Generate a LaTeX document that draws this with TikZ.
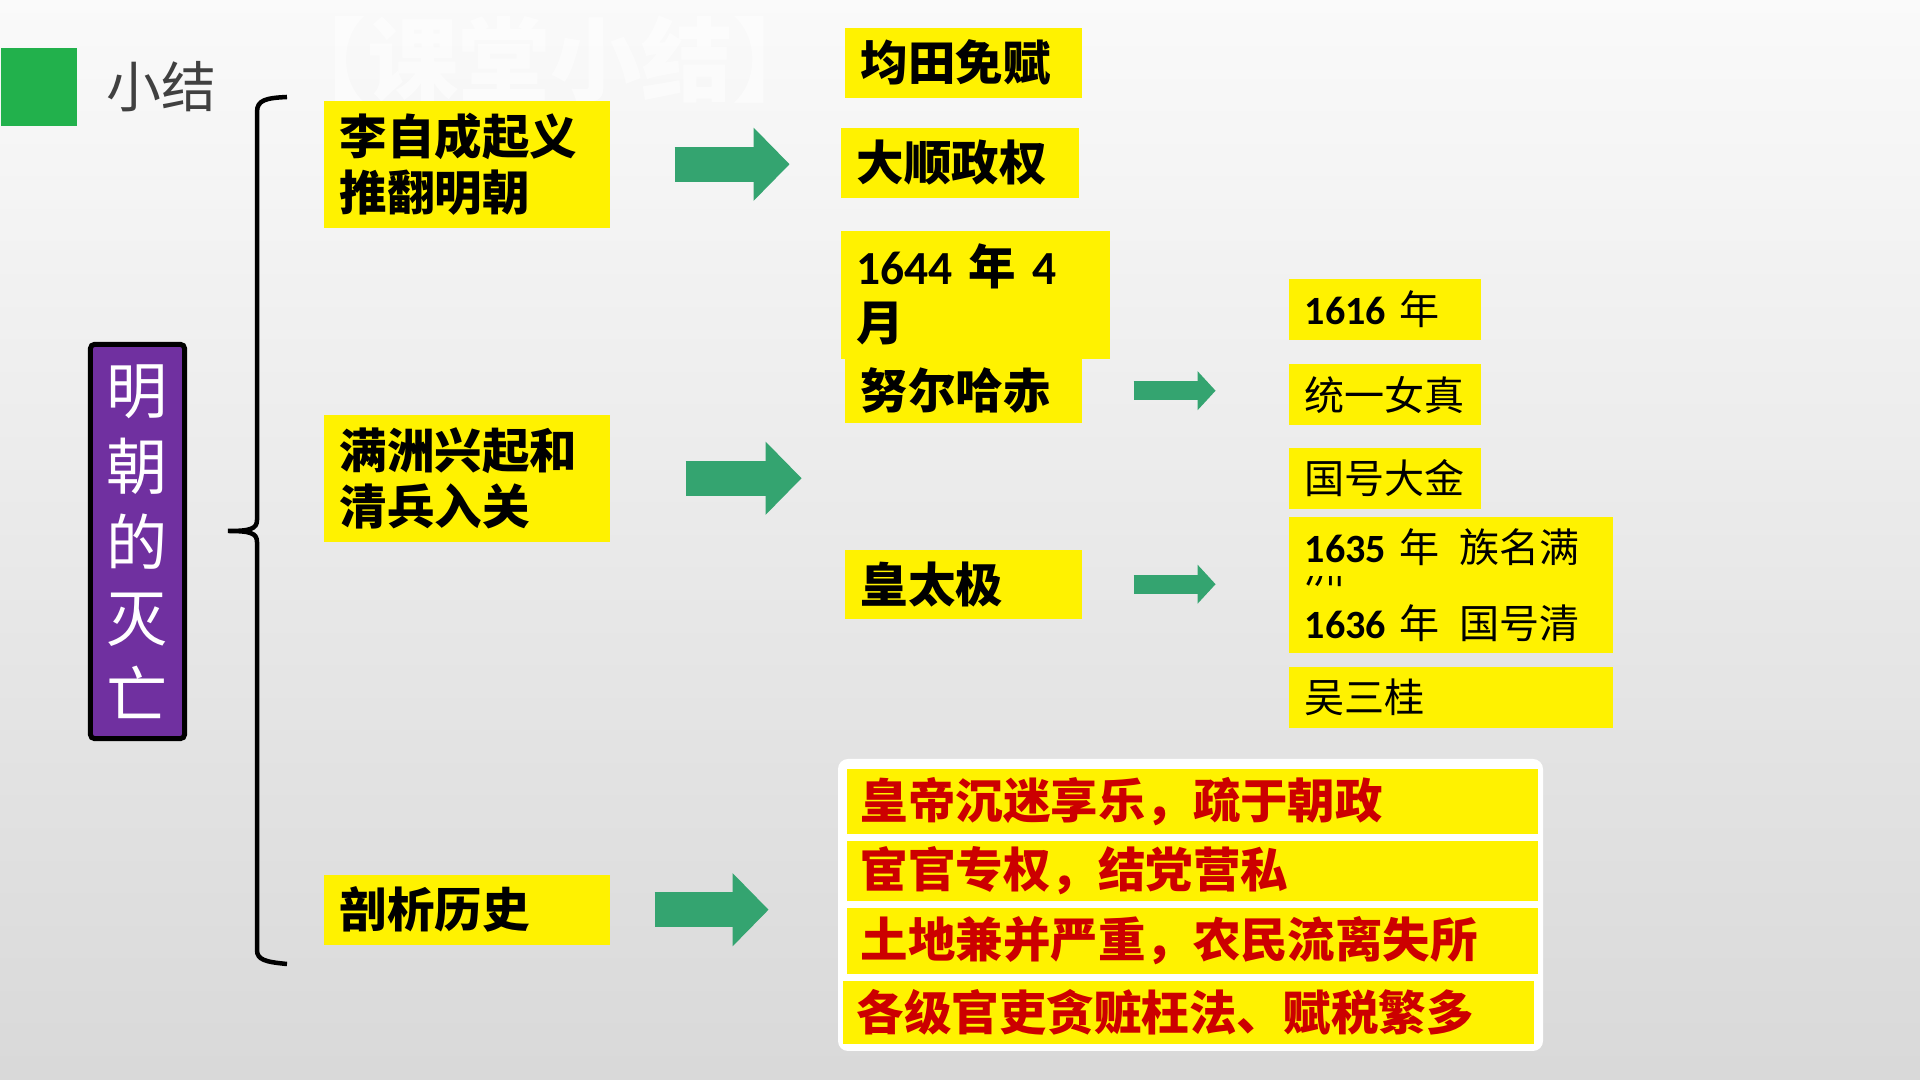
\documentclass[tikz,border=0pt]{standalone}
\usepackage{fontspec}
\setmainfont{Carlito}
\newfontfamily\zhfont{Noto Sans CJK SC}
\usetikzlibrary{arrows.meta,positioning}
\definecolor{markgreen}{RGB}{34,177,76}
\definecolor{arrgreen}{RGB}{52,164,112}
\definecolor{mingpurple}{RGB}{112,48,160}
\definecolor{redtext}{RGB}{204,0,0}

\begin{document}
\begin{tikzpicture}[x=0.01cm,y=-0.01cm,
  ybox/.style={fill=yellow,anchor=north west,inner xsep=1.6mm,inner ysep=0pt,align=left,
    font=\zhfont\bfseries\fontsize{13.5}{15.9}\selectfont},
  rbox/.style={fill=yellow,anchor=north west,inner xsep=1.6mm,inner ysep=0pt,align=left,
    text width=16mm,minimum height=6.1mm,font=\zhfont\fontsize{11.4}{13}\selectfont},
  rrow/.style={fill=yellow,anchor=north west,inner xsep=1.4mm,inner ysep=0pt,align=left,
    text width=66.3mm,text=redtext,font=\zhfont\bfseries\fontsize{13.5}{15}\selectfont},
  bigarr/.style={arrgreen,line width=3.5mm,-{Triangle[length=3.6mm,width=7.1mm]}},
  smallarr/.style={arrgreen,line width=1.9mm,-{Triangle[length=1.8mm,width=3.8mm]}}]

  % background
  \shade[top color=white!98!black,bottom color=white!85!black] (0,0) rectangle (1920,1080);

  % heading
  \node[fill=markgreen,minimum width=7.6mm,minimum height=7.8mm,inner sep=0,anchor=north west] (mark) at (0,47) {};
  \node[right=2.8mm of mark,inner sep=0,text=black!75,font=\zhfont\fontsize{15.6}{16}\selectfont] (xj) {小结};
  \node[anchor=west,inner sep=0,text=white,opacity=0.55,font=\zhfont\bfseries\fontsize{26}{26}\selectfont] (ktxj) at (275,60) {【课堂小结】};

  % title box
  \node[draw=black,line width=0.5mm,fill=mingpurple,rounded corners=0.4mm,minimum width=9.4mm,minimum height=39.4mm,
    inner sep=0,align=center,text=white,font=\zhfont\fontsize{17.4}{21.6}\selectfont] (title) at (137.5,541.5)
    {明\\朝\\的\\灭\\亡};

  % brace
  \draw[line width=0.45mm] (287,97) .. controls (266,98) and (257,100) .. (257,112) -- (257,520)
    .. controls (257,529) and (250,531) .. (228,531)
    .. controls (250,531) and (257,533) .. (257,542) -- (257,950)
    .. controls (257,960) and (266,962) .. (287,964);

  % left column
  \node[ybox,text width=25.4mm,minimum height=12.7mm] (lzc) at (323,100) {李自成起义\\推翻明朝};
  \node[ybox,text width=25.4mm,minimum height=12.7mm] (mzh) at (323,414) {满洲兴起和\\清兵入关};
  \node[ybox,text width=25.4mm,minimum height=7mm] (pxls) at (323,874) {剖析历史};

  % middle column
  \node[ybox,text width=20.5mm,minimum height=7mm] (jtmf) at (844,27) {均田免赋};
  \node[ybox,text width=20.6mm,minimum height=7mm] (dsh) at (840,127) {大顺政权};
  \node[ybox,text width=23.7mm,minimum height=12.8mm] (y1644) at (840,230)
    {{\rmfamily\bfseries 1644} 年 {\rmfamily\bfseries 4}\\月};
  \node[ybox,text width=20.5mm,minimum height=6.4mm] (nehc) at (844,358) {努尔哈赤};
  \node[ybox,text width=20.5mm,minimum height=6.9mm] (htj) at (844,549) {皇太极};

  % right column
  \node[rbox] (y1616) at (1288,278) {{\rmfamily\bfseries 1616} 年};
  \node[rbox,below=2.3mm of y1616.south west,anchor=north west] (tyn) {统一女真};
  \node[rbox,below=2.1mm of tyn.south west,anchor=north west] (ghdj) {国号大金};
  \node[rbox,below=0.7mm of ghdj.south west,anchor=north west,text width=29.2mm,minimum height=13.6mm,
    font=\zhfont\fontsize{11.4}{21.6}\selectfont] (y1635)
    {{\rmfamily\bfseries 1635} 年\hspace{2mm}族名满\\{\rmfamily\bfseries 1636} 年\hspace{2mm}国号清};
  \begin{scope}
    \clip (1300,577) rectangle (1350,589);
    \node[anchor=base west,inner sep=0,font=\zhfont\fontsize{11.4}{13}\selectfont] (zhou) at (1304,584) {洲};
  \end{scope}
  \node[rbox,below=1.2mm of y1635.south west,anchor=north west,text width=29.2mm] (wsg) {吴三桂};

  % reasons
  \fill[white,rounded corners=1mm] (838,759) rectangle (1543,1051);
  \node[rrow,minimum height=6.5mm] (r1) at (846,768) {皇帝沉迷享乐，疏于朝政};
  \node[rrow,minimum height=6mm] (r2) at (846,840) {宦官专权，结党营私};
  \node[rrow,minimum height=6.6mm] (r3) at (846,907) {土地兼并严重，农民流离失所};
  \node[rrow,minimum height=6.3mm] (r4) at (842,980) {各级官吏贪赃枉法、赋税繁多};

  % arrows
  \draw[bigarr] ([xshift=6.4mm]lzc.east) -- ++(115,0);
  \draw[bigarr] ([xshift=7.5mm]mzh.east) -- ++(116,0);
  \draw[bigarr] ([xshift=4.4mm]pxls.east) -- ++(114,0);
  \draw[smallarr] ([xshift=5.1mm]nehc.east) -- ++(82,0);
  \draw[smallarr] ([xshift=5.1mm]htj.east) -- ++(82,0);
\end{tikzpicture}
\end{document}
